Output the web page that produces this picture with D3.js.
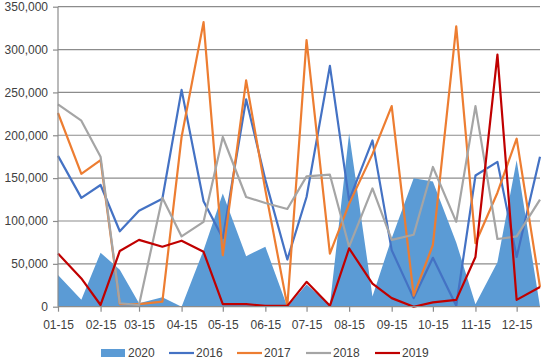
<!DOCTYPE html>
<html>
<head>
<meta charset="utf-8">
<script src="https://cdn.jsdelivr.net/npm/d3@7"></script>
<style>
  html, body { margin: 0; padding: 0; background: #fff; }
  svg { display: block; font-family: "Liberation Sans", Arial, sans-serif; }
</style>
</head>
<body>
<svg id="chart" width="550" height="361"></svg>
<script>
// ---- data ----
const dates = ["2021-01-15","2021-02-01","2021-02-15","2021-03-01","2021-03-15","2021-04-01",
  "2021-04-15","2021-05-01","2021-05-15","2021-06-01","2021-06-15","2021-07-01",
  "2021-07-15","2021-08-01","2021-08-15","2021-09-01","2021-09-15","2021-10-01",
  "2021-10-15","2021-11-01","2021-11-15","2021-12-01","2021-12-15","2022-01-01"];
const tickDates = ["2021-01-15","2021-02-15","2021-03-15","2021-04-15","2021-05-15","2021-06-15",
  "2021-07-15","2021-08-15","2021-09-15","2021-10-15","2021-11-15","2021-12-15"];
const yTicks = [0, 50000, 100000, 150000, 200000, 250000, 300000, 350000];

const area2020 = [37,8,63,43,4,11,0,66,132,59,70,0,26,2,202,12,80,150,146,75,3,52,171,0].map(v => v * 1000);
const s2016 = [176,127,142,88,112,126,253,123,80,242,148,55,128,281,124,194,66,10,57,1,153,169,58,175].map(v => v * 1000);
const s2017 = [226,155,171,3,3,6,198,332,60,264,136,1,311,62,120,178,234,13,72,327,74,133,196,23].map(v => v * 1000);
const s2018 = [236,217,175,4,2,127,82,99,198,128,121,114,152,154,70,138,78,84,163,99,234,79,82,125].map(v => v * 1000);
const s2019 = [62,33,2,65,78,70,77,64,3,3,1,1,29,1,68,27,10,0,5,8,58,294,8,23].map(v => v * 1000);

const lineSeries = [
  { name: "2016", values: s2016, color: "#4472C4" },
  { name: "2017", values: s2017, color: "#ED7D31" },
  { name: "2018", values: s2018, color: "#A5A5A5" },
  { name: "2019", values: s2019, color: "#C00000" }
];
const areaSeries = { name: "2020", values: area2020, color: "#5B9BD5" };

// ---- layout ----
const svg = d3.select("#chart");
const parse = d3.utcParse("%Y-%m-%d");
const xDates = dates.map(parse);
const plotLeft = 58, plotRight = 540, plotTop = 6.7, plotBottom = 306.7;

const x = d3.scaleUtc().domain(d3.extent(xDates)).range([plotLeft, plotRight]);
const y = d3.scaleLinear().domain([0, 350000]).range([plotBottom, plotTop]);

const textColor = "#404040";
const gridColor = "#8c8c8c";

// gridlines
svg.append("g")
  .selectAll("line")
  .data(yTicks.filter(d => d > 0))
  .join("line")
  .attr("x1", plotLeft).attr("x2", plotRight)
  .attr("y1", d => y(d)).attr("y2", d => y(d))
  .attr("stroke", gridColor).attr("stroke-width", 1.2);

// area
const area = d3.area()
  .x((d, i) => x(xDates[i]))
  .y0(y(0))
  .y1(d => y(d));
svg.append("path")
  .datum(areaSeries.values)
  .attr("d", area)
  .attr("fill", areaSeries.color);

// lines
const line = d3.line()
  .x((d, i) => x(xDates[i]))
  .y(d => y(d));
lineSeries.forEach(s => {
  svg.append("path")
    .datum(s.values)
    .attr("d", line)
    .attr("fill", "none")
    .attr("stroke", s.color)
    .attr("stroke-width", 2.2)
    .attr("stroke-linejoin", "round");
});

// y axis
const yAxis = d3.axisLeft(y)
  .tickValues(yTicks)
  .tickFormat(d3.format(","))
  .tickSize(5)
  .tickPadding(5);
const gy = svg.append("g").attr("transform", `translate(${plotLeft},0)`).call(yAxis);
gy.select(".domain").attr("stroke", gridColor).attr("stroke-width", 1.2).attr("d", `M0,${plotTop}V${plotBottom}`);
gy.selectAll(".tick line").attr("stroke", gridColor).attr("stroke-width", 1.2);
gy.selectAll("text").attr("fill", textColor).attr("font-size", 12)
  .style("font-family", '"Liberation Sans", Arial, sans-serif');

// x axis
const xAxis = d3.axisBottom(x)
  .tickValues(tickDates.map(parse))
  .tickFormat(d3.utcFormat("%m-%d"))
  .tickSize(5)
  .tickPadding(9);
const gx = svg.append("g").attr("transform", `translate(0,${plotBottom})`).call(xAxis);
gx.select(".domain").attr("stroke", gridColor).attr("stroke-width", 1.2).attr("d", `M${plotLeft},0H${plotRight}`);
gx.selectAll(".tick line").attr("stroke", gridColor).attr("stroke-width", 1.2);
gx.selectAll("text").attr("fill", textColor).attr("font-size", 12)
  .style("font-family", '"Liberation Sans", Arial, sans-serif');

// legend
const legendItems = [areaSeries].concat(lineSeries);
const legendX = [101, 169, 237, 306, 375];
const legendY = 353;
const lg = svg.append("g");
legendItems.forEach((s, i) => {
  const g = lg.append("g").attr("transform", `translate(${legendX[i]},${legendY})`);
  if (i === 0) {
    g.append("rect").attr("x", 0).attr("y", -4).attr("width", 24).attr("height", 8).attr("fill", s.color);
  } else {
    g.append("line").attr("x1", 0).attr("x2", 25).attr("y1", 0).attr("y2", 0)
      .attr("stroke", s.color).attr("stroke-width", 2.2);
  }
  g.append("text").attr("x", 27).attr("y", 0).attr("dy", "0.35em")
    .attr("font-size", 12).attr("fill", textColor).text(s.name);
});
</script>
</body>
</html>
